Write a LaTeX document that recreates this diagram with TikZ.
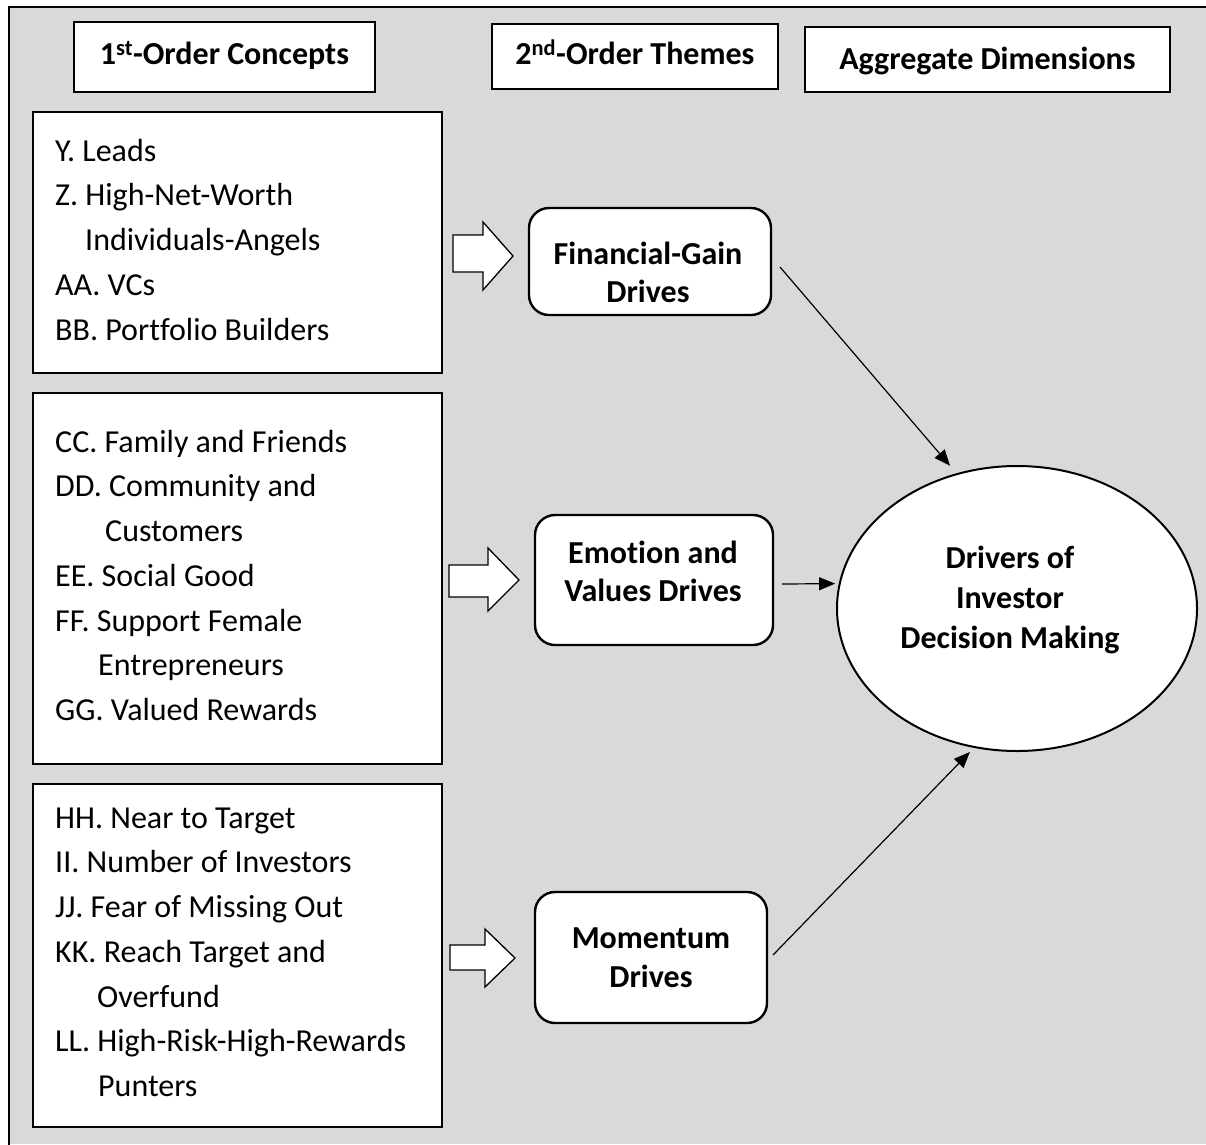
\documentclass[tikz,border=0pt]{standalone}
\usepackage{fontspec}
\setmainfont{Carlito}[Ligatures=NoCommon]
\usetikzlibrary{arrows.meta,shapes.geometric}
\definecolor{bggray}{HTML}{D9D9D9}
\begin{document}
\begin{tikzpicture}[x=1pt,y=-1pt,
  hdr/.style={draw, line width=2pt, fill=white, inner sep=0pt, outer sep=0pt,
    font=\bfseries\fontsize{32}{38}\selectfont, text height=23pt, text depth=8pt},
  listbox/.style={draw, line width=2pt, fill=white, inner sep=0pt, outer sep=0pt},
  listtext/.style={anchor=north west, inner sep=0pt, align=left,
    font=\fontsize{32}{44.75}\selectfont},
  rbox/.style={draw, line width=2.4pt, fill=white, rounded corners=20pt,
    inner sep=0pt, outer sep=0pt},
  btext/.style={anchor=north, inner sep=0pt, align=center,
    font=\bfseries\fontsize{32}{38.5}\selectfont},
  blockarrow/.style={draw, line width=1.3pt, fill=white, line join=miter},
  conn/.style={line width=1.2pt, -{Triangle[length=16pt,width=13pt]}},
]
\useasboundingbox (0,0) rectangle (1206,1144);
\fill[white] (0,0) rectangle (1206,1144);
\fill[bggray] (9,7) rectangle (1206,1144);
\draw[line width=2.5pt] (9,1146) -- (9,7) -- (1208,7);

% headers
\node[hdr, minimum width=301pt, minimum height=70pt] (h1) at (224.5,57) {1\textsuperscript{st}-Order Concepts};
\node[hdr, minimum width=286pt, minimum height=65pt] (h2) at (635,56.7) {2\textsuperscript{nd}-Order Themes};
\node[hdr, minimum width=365pt, minimum height=65pt, text depth=4pt] (h3) at (987.5,59.5) {Aggregate Dimensions};

% list boxes
\node[listbox, minimum width=409pt, minimum height=261pt] (b1) at (237.5,242.5) {};
\node[listbox, minimum width=409pt, minimum height=371pt] (b2) at (237.5,578.5) {};
\node[listbox, minimum width=409pt, minimum height=343pt] (b3) at (237.5,955.5) {};

\node[listtext] (t1) at (55,136) {\rule{0pt}{25pt}Y. Leads\\
Z. High-Net-Worth\\
\hspace*{30pt}Individuals-Angels\\
AA. VCs\\
BB. Portfolio Builders};

\node[listtext] (t2) at (55,427) {\rule{0pt}{25pt}CC. Family and Friends\\
DD. Community and\\
\hspace*{50pt}Customers\\
EE. Social Good\\
FF. Support Female\\
\hspace*{43pt}Entrepreneurs\\
GG. Valued Rewards};

\node[listtext] (t3) at (55,803) {\rule{0pt}{25pt}HH. Near to Target\\
II. Number of Investors\\
JJ. Fear of Missing Out\\
KK. Reach Target and\\
\hspace*{42pt}Overfund\\
LL. High-Risk-High-Rewards\\
\hspace*{43pt}Punters};

% block arrows
\draw[blockarrow] (453,235) -- (483,235) -- (483,222) -- (513,256) -- (483,290) -- (483,272) -- (453,272) -- cycle;
\draw[blockarrow] (449,565) -- (488,565) -- (488,548) -- (519,580) -- (488,611) -- (488,597) -- (449,597) -- cycle;
\draw[blockarrow] (450,945) -- (485,945) -- (485,929) -- (515,958) -- (485,987) -- (485,970) -- (450,970) -- cycle;

% themes
\node[rbox, minimum width=242pt, minimum height=107pt] (fg) at (650,261.5) {};
\node[rbox, minimum width=238pt, minimum height=130pt] (ev) at (654,580) {};
\node[rbox, minimum width=232pt, minimum height=131pt] (m) at (651,957.5) {};
\node[btext, font=\bfseries\fontsize{32}{38}\selectfont] (fgt) at (648,239) {\rule{0pt}{25pt}Financial-Gain\\Drives};
\node[btext, font=\bfseries\fontsize{32}{38}\selectfont] (evt) at (653,538.3) {\rule{0pt}{25pt}Emotion and\\Values Drives};
\node[btext] (mt) at (651,923.3) {\rule{0pt}{25pt}Momentum\\Drives};

% aggregate
\node[ellipse, draw, line width=2pt, fill=white, minimum width=360pt, minimum height=285pt,
  inner sep=0pt, outer sep=0pt] (ell) at (1017,608.5) {};
\node[btext, font=\bfseries\fontsize{32}{40}\selectfont] (ellt) at (1010,543.3) {\rule{0pt}{25pt}Drivers of\\Investor\\Decision Making};

% connectors
\draw[conn, shorten >=11pt] ([xshift=9pt,yshift=-5.5pt]fg.east) -- (ell.114.4);
\draw[conn, shorten >=4.7pt] ([xshift=9pt,yshift=-4pt]ev.east) -- (ell.172.13);
\draw[conn, shorten >=6.9pt] ([xshift=6pt,yshift=2.5pt]m.east) -- (ell.253.05);
\end{tikzpicture}
\end{document}
